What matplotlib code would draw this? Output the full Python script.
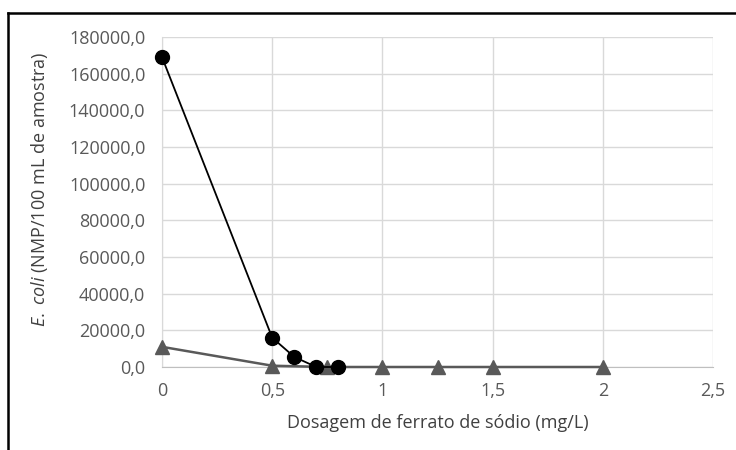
import matplotlib
matplotlib.use('Agg')
import matplotlib.pyplot as plt
from matplotlib.lines import Line2D
from matplotlib.ticker import FuncFormatter, MultipleLocator

plt.rcParams['font.family'] = ['Open Sans', 'DejaVu Sans']
plt.rcParams['mathtext.fontset'] = 'custom'
plt.rcParams['mathtext.rm'] = 'Open Sans'
plt.rcParams['mathtext.it'] = 'Open Sans:italic'

# series 1 (circles)
dose_a = [0, 0.5, 0.6, 0.7, 0.8]
ecoli_a = [169000, 16000, 5500, 0, 0]

# series 2 (triangles)
dose_b = [0, 0.5, 0.75, 1, 1.25, 1.5, 2]
ecoli_b = [11000, 700, 0, 0, 0, 0, 0]

xlabel = 'Dosagem de ferrato de sódio (mg/L)'
ylabel = r'$\it{E.\ coli}$ (NMP/100 mL de amostra)'

fig = plt.figure(figsize=(7.36, 4.5), dpi=100)
ax = fig.add_axes([162/736, 1-367/450, (713-162)/736, (367-37)/450])

ax.plot(dose_a, ecoli_a, '-o', color='black', lw=1.3, ms=10, clip_on=False, zorder=4)
ax.plot(dose_b, ecoli_b, '-^', color='#595959', mfc='#595959', mec='#595959',
        lw=1.8, ms=10, clip_on=False, zorder=3)

ax.set_xlim(0, 2.5)
ax.set_ylim(0, 180000)
ax.xaxis.set_major_locator(MultipleLocator(0.5))
ax.yaxis.set_major_locator(MultipleLocator(20000))
ax.xaxis.set_major_formatter(FuncFormatter(lambda v, p: ('%g' % v).replace('.', ',')))
ax.yaxis.set_major_formatter(FuncFormatter(lambda v, p: ('%.1f' % v).replace('.', ',')))

ax.grid(True, color='#d9d9d9', lw=1)
ax.set_axisbelow(True)
for s in ['top', 'right']:
    ax.spines[s].set_visible(False)
ax.spines['left'].set_color('#d9d9d9')
ax.spines['bottom'].set_color('#bfbfbf')
ax.tick_params(length=0, labelsize=13, labelcolor='#595959')
ax.tick_params(axis='x', pad=11)
ax.tick_params(axis='y', pad=12)

ax.set_xlabel(xlabel, fontsize=13, color='#404040', labelpad=10)
ax.set_ylabel(ylabel, fontsize=13, color='#404040')
ax.yaxis.set_label_coords(-0.203, 0.54)

# outer frame (only top and left visible)
fig.add_artist(Line2D([8/736, 8/736], [0, 1-13/450], color='black', lw=1.8))
fig.add_artist(Line2D([8/736, 1], [1-13/450, 1-13/450], color='black', lw=1.8))

fig.savefig('out.png', dpi=100)
